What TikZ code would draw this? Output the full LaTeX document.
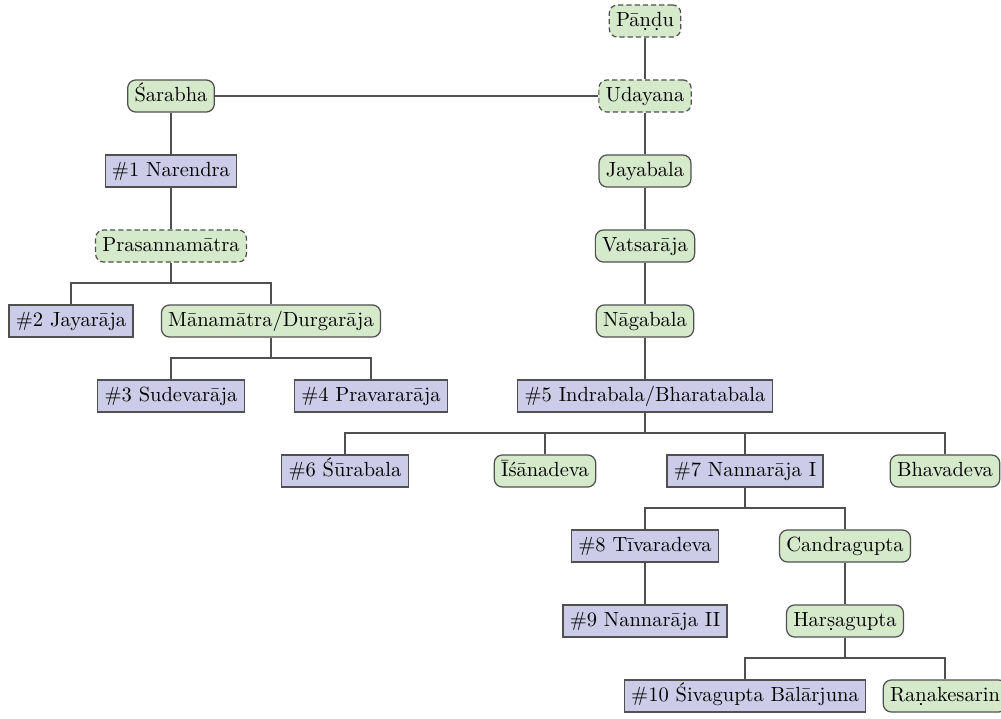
\documentclass[tikz,border=0pt]{standalone}

\definecolor{kinggreen}{RGB}{213,233,203}
\definecolor{kingblue}{RGB}{205,204,232}
\definecolor{kingline}{RGB}{80,80,80}

\begin{document}
\begin{tikzpicture}[x=0.4878pt, y=-0.4878pt,
	link/.style={draw=kingline, semithick},
	box/.style={draw=kingline, semithick, text height=7pt, text depth=2pt},
	king/.style={box, fill=kingblue},
	kin/.style={box, fill=kinggreen, rounded corners=4pt},
	guess/.style={kin, dash pattern=on 2.5pt off 1.5pt}]
\useasboundingbox (0,0) rectangle (1001,718);

\node[guess] (pandu) at (645,21) {P\=a\d{n}\d{d}u};
\node[guess] (udayana) at (645,96) {Udayana};
\node[kin] (sarabha) at (171,96) {\'Sarabha};
\node[king] (narendra) at (171,171) {\#1 Narendra};
\node[guess] (prasanna) at (171,246) {Prasannam\=atra};
\node[king] (jayaraja) at (71,321) {\#2 Jayar\=aja};
\node[kin] (manamatra) at (271,321) {M\=anam\=atra/Durgar\=aja};
\node[king] (sudeva) at (171,396) {\#3 Sudevar\=aja};
\node[king] (pravara) at (371,396) {\#4 Pravarar\=aja};

\node[kin] (jayabala) at (645,171) {Jayabala};
\node[kin] (vatsaraja) at (645,246) {Vatsar\=aja};
\node[kin] (nagabala) at (645,321) {N\=agabala};
\node[king] (indrabala) at (645,396) {\#5 Indrabala/Bharatabala};
\node[king] (surabala) at (345,471) {\#6 \'S\=urabala};
\node[kin] (isana) at (545,471) {\=I\'s\=anadeva};
\node[king] (nanna1) at (745,471) {\#7 Nannar\=aja I};
\node[kin] (bhava) at (945,471) {Bhavadeva};
\node[king] (tivara) at (645,546) {\#8 T\={\i}varadeva};
\node[kin] (candra) at (845,546) {Candragupta};
\node[king] (nanna2) at (645,621) {\#9 Nannar\=aja II};
\node[kin] (harsa) at (845,621) {Har\d{s}agupta};
\node[king] (sivagupta) at (745,696) {\#10 \'Sivagupta B\=al\=arjuna};
\node[kin] (ranake) at (945,696) {Ra\d{n}akesarin};

\coordinate (fork1) at (171,283);
\coordinate (fork2) at (271,358);
\coordinate (fork3) at (645,433);
\coordinate (fork4) at (745,508);
\coordinate (fork5) at (845,658);

\draw[link] (sarabha) -- (udayana);
\foreach \a/\b in {pandu/udayana, udayana/jayabala, jayabala/vatsaraja,
	vatsaraja/nagabala, nagabala/indrabala, sarabha/narendra,
	narendra/prasanna, tivara/nanna2, candra/harsa}
	\draw[link] (\a) -- (\b);

\draw[link] (prasanna) -- (fork1);
\draw[link] (jayaraja.north) |- (fork1) -| (manamatra.north);
\draw[link] (manamatra) -- (fork2);
\draw[link] (sudeva.north) |- (fork2) -| (pravara.north);
\draw[link] (indrabala) -- (fork3);
\draw[link] (surabala.north) |- (fork3) -| (bhava.north);
\draw[link] (isana.north) |- (fork3);
\draw[link] (nanna1.north) |- (fork3);
\draw[link] (nanna1) -- (fork4);
\draw[link] (tivara.north) |- (fork4) -| (candra.north);
\draw[link] (harsa) -- (fork5);
\draw[link] (sivagupta.north) |- (fork5) -| (ranake.north);
\end{tikzpicture}
\end{document}
